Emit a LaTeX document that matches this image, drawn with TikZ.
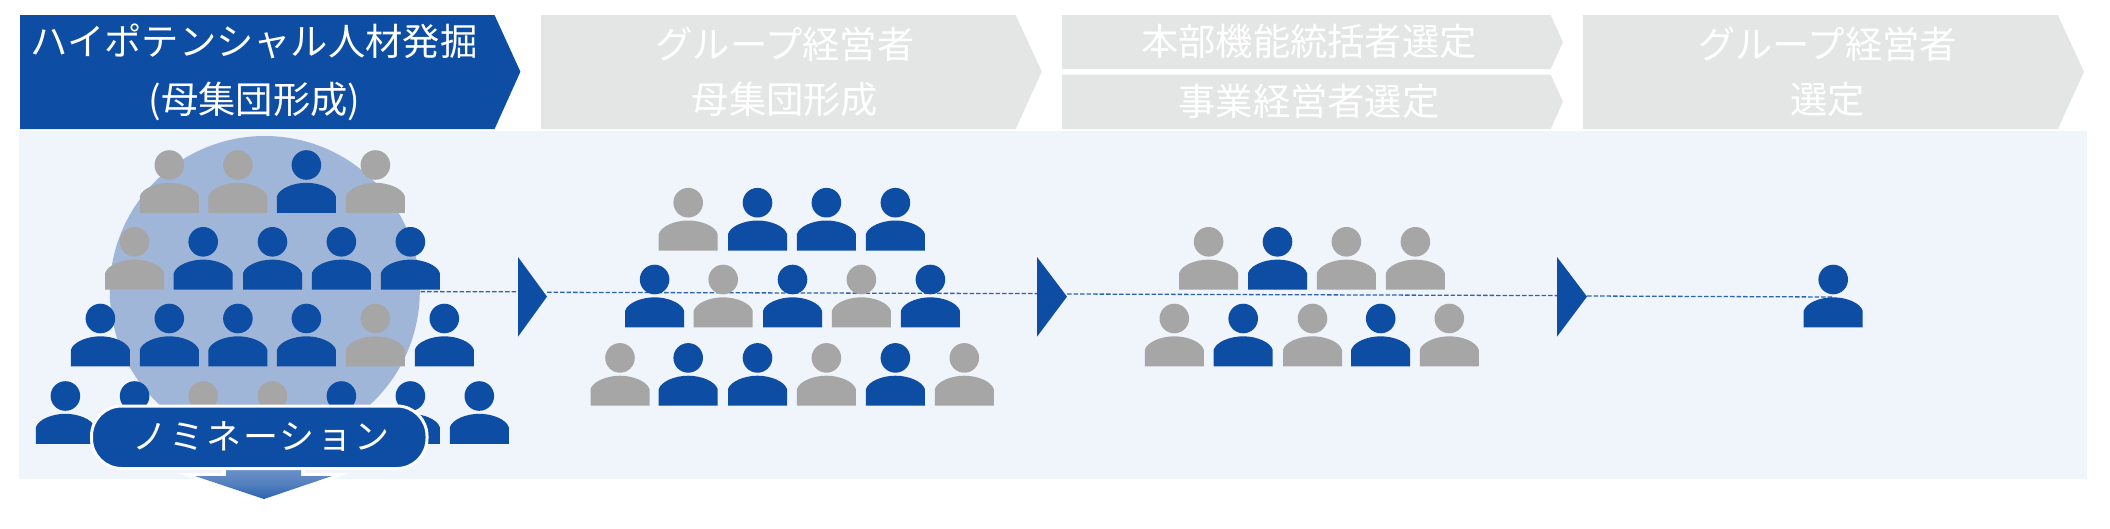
\documentclass[tikz,border=0pt]{standalone}
\usepackage{fontspec}
\setmainfont{Noto Sans CJK JP}
\usetikzlibrary{shadings}
\definecolor{brand}{HTML}{0E4DA4}
\definecolor{pale}{HTML}{E4E6E5}
\definecolor{panelbg}{HTML}{F0F4FB}
\definecolor{circ}{HTML}{A0B6D8}
\definecolor{grayp}{HTML}{A6A6A6}
\definecolor{dashc}{HTML}{2F63B2}
\newcommand{\personfig}[3]{%
  \fill[#3] (#1,#2-47.8) circle[radius=14.8];
  \fill[#3] (#1-29.5,#2) -- (#1-29.5,#2-16.5)
    .. controls (#1-27,#2-24.5) and (#1-13,#2-30) .. (#1,#2-30)
    .. controls (#1+13,#2-30) and (#1+27,#2-24.5) .. (#1+29.5,#2-16.5)
    -- (#1+29.5,#2) -- cycle;
}
\newcommand{\personrow}[2]{%
  \foreach \px/\pc in {#2} {\personfig{\px}{#1}{\pc}}%
}
\tikzset{
  headtxt/.style={anchor=base,inner sep=0pt,text=white,font=\fontsize{37.3}{37.3}\selectfont},
  flow/.style={draw=dashc,line width=1.3pt,dash pattern=on 4.5pt off 2pt},
  tri/.style={fill=brand},
}
\begin{document}
\begin{tikzpicture}[x=1pt,y=-1pt]
\useasboundingbox (0,0) rectangle (2110,528);
% panel and circle
\fill[panelbg] (19,130.6) rectangle (2087,478.5);
\fill[circ] (264.8,291) circle[radius=155];
% triangles anchors
\coordinate (c0) at (420.7,291.6);
\coordinate (t1w) at (518,291.8);
\coordinate (t1e) at (547,292.3);
\coordinate (t2w) at (1037,293.6);
\coordinate (t2e) at (1067,294);
\coordinate (t3w) at (1557,295.6);
\coordinate (t3e) at (1587,296);
\coordinate (p4) at (1833,297);
% connectors
\draw[flow] (c0) -- (t1w);
\draw[flow] (t1e) -- (t2w);
\draw[flow] (t2e) -- (t3w);
\draw[flow] (t3e) -- (p4);
% triangles
\fill[tri] (518,257) -- (547,296.6) -- (518,336.7) -- cycle;
\fill[tri] (1037,257) -- (1067,296.6) -- (1037,336.7) -- cycle;
\fill[tri] (1557,257) -- (1587,296.6) -- (1557,336.7) -- cycle;
% group 1
\personrow{212.8}{169.3/grayp,237.9/grayp,306.4/brand,375.4/grayp}
\personrow{289.6}{134.6/grayp,203.2/brand,272.5/brand,341.4/brand,410.4/brand}
\personrow{366.3}{100.4/brand,169.3/brand,237.9/brand,306.4/brand,375.4/grayp,444.3/brand}
\personrow{443.8}{65.4/brand,134.6/brand,203.2/grayp,272.5/grayp,341.4/brand,410.4/brand,479.3/brand}
% group 2
\personrow{250.5}{688.2/grayp,757.5/brand,826.4/brand,895.4/brand}
\personrow{327.3}{654.6/brand,723.2/grayp,792.5/brand,861.4/grayp,930.4/brand}
\personrow{405.7}{620/grayp,688.2/brand,757.5/brand,826.4/grayp,895.4/brand,964.3/grayp}
% group 3
\personrow{289.6}{1208.6/grayp,1277.5/brand,1346.4/grayp,1415.4/grayp}
\personrow{366.3}{1174.3/grayp,1243.2/brand,1312.5/grayp,1380.7/brand,1449.3/grayp}
% group 4
\personrow{327.3}{1833.2/brand}
% down arrow
\fill[white] (178,473) -- (222,473) -- (222,468) -- (305,468) -- (305,473) -- (349,473) -- (264,505) -- cycle;
\shade[top color=brand!62!white,bottom color=brand!88!white,middle color=brand!72!white]
  (226,470) -- (301,470) -- (301,476) -- (332,476) -- (264,499) -- (195,476) -- (226,476) -- cycle;
% pill
\draw[white,line width=3pt,fill=brand,rounded corners=30pt] (91.5,406) rectangle (427,468.5);
\node[anchor=base,inner sep=0pt,text=white,font=\fontsize{35}{35}\selectfont] (nom) at (260.7,449.5)
  {\addfontfeature{LetterSpace=6}ノミネーション};
% headers
\fill[brand] (20,15.2) -- (494.6,15.2) -- (520.4,71.7) -- (494.6,129) -- (20,129) -- cycle;
\fill[pale] (541,15.2) -- (1015.7,15.2) -- (1041.8,71.7) -- (1015.7,129) -- (541,129) -- cycle;
\fill[pale] (1062,15.2) -- (1550.7,15.2) -- (1562.9,42) -- (1550.7,69) -- (1062,69) -- cycle;
\fill[pale] (1062,74.7) -- (1550.7,74.7) -- (1562.9,101.7) -- (1550.7,129) -- (1062,129) -- cycle;
\fill[pale] (1582.9,15.2) -- (2057.9,15.2) -- (2084,71.7) -- (2057.9,129) -- (1582.9,129) -- cycle;
\node[headtxt] (h1a) at (254,55) {ハイポテンシャル人材発掘};
\node[headtxt] (h1b) at (254.5,113) {(母集団形成)};
\node[headtxt] (h2a) at (785,58) {グループ経営者};
\node[headtxt] (h2b) at (785,113) {母集団形成};
\node[headtxt] (h3a) at (1309,55.5) {本部機能統括者選定};
\node[headtxt] (h3b) at (1309,115) {事業経営者選定};
\node[headtxt] (h4a) at (1827.5,58) {グループ経営者};
\node[headtxt] (h4b) at (1827.5,113) {選定};
\end{tikzpicture}
\end{document}
